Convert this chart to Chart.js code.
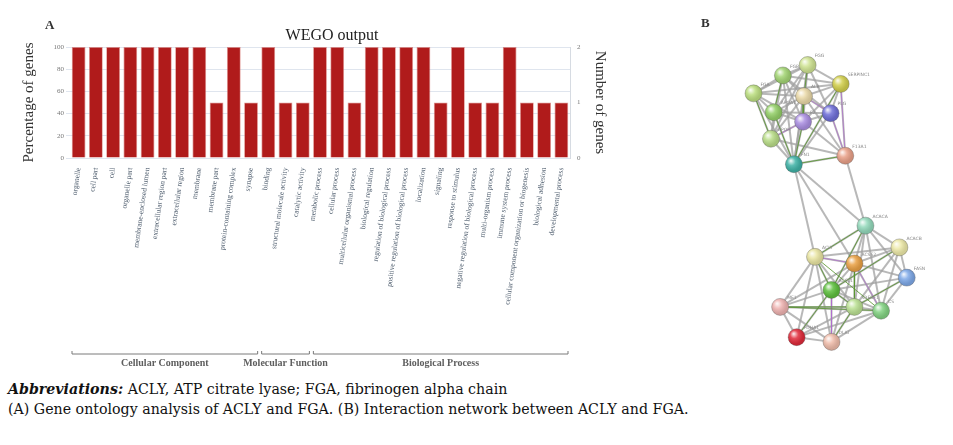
<!DOCTYPE html>
<html>
<head>
<meta charset="utf-8">
<script src="https://cdn.jsdelivr.net/npm/chart.js@4/dist/chart.umd.min.js"></script>
<style>
  html,body{margin:0;padding:0;background:#fff;}
  #wrap{position:relative;width:953px;height:445px;overflow:hidden;background:#fff;}
  #cA{position:absolute;left:0;top:0;}
  #cB{position:absolute;left:700px;top:30px;}
  .panel{position:absolute;font-family:"Liberation Serif",serif;font-weight:bold;font-size:13px;color:#333;}
  #ttl{position:absolute;left:232px;width:200px;top:25px;text-align:center;font-family:"Liberation Serif",serif;font-size:16px;line-height:19px;color:#222;}
  #cap{position:absolute;left:8px;top:379px;font-family:"DejaVu Serif",serif;font-size:14.2px;line-height:20px;color:#111;white-space:nowrap;}
</style>
</head>
<body>
<div id="wrap">
  <canvas id="cA" width="620" height="375"></canvas>
  <canvas id="cB" width="230" height="345"></canvas>
  <div class="panel" style="left:45px;top:17px;">A</div>
  <div id="ttl">WEGO output</div>
  <div class="panel" style="left:701px;top:15px;">B</div>
  <div id="cap">
    <div><b><i>Abbreviations:</i></b> ACLY, ATP citrate lyase; FGA, fibrinogen alpha chain</div>
    <div>(A) Gene ontology analysis of ACLY and FGA. (B) Interaction network between ACLY and FGA.</div>
  </div>
</div>
<script>
// ---------- Panel A data ----------
const categories = [
  "organelle","cell part","cell","organelle part","membrane-enclosed lumen",
  "extracellular region part","extracellular region","membrane","membrane part",
  "protein-containing complex","synapse",
  "binding","structural molecule activity","catalytic activity",
  "metabolic process","cellular process","multicellular organismal process",
  "biological regulation","regulation of biological process",
  "positive regulation of biological process","localization","signaling",
  "response to stimulus","negative regulation of biological process",
  "multi-organism process","immune system process",
  "cellular component organization or biogenesis","biological adhesion",
  "developmental process"
];
const percentValues = [100,100,100,100,100,100,100,100,50,100,50,
                       100,50,50,
                       100,100,50,100,100,100,100,50,100,50,50,100,50,50,50];
const leftTicks = [0,20,40,60,80,100];
const rightTicks = [0,1,2];
const groupNames = ["Cellular Component","Molecular Function","Biological Process"];
const groupFirst = [0,11,14];
const groupLast  = [10,13,28];

// ---------- Panel B data (network layout) ----------
const nodeNames = ["FGG","FGB","FGA","SERPINC1","ALB","APOA1","F2","PLG","APOH","FN1","F13A1",
                   "ACACA","ACACB","FASN","ACLY","ACSS2","ACSL1","ME1","SREBF1","CS","PDHA1","DLAT"];
const nodeX = [107,80,48,143,103,70,102,132,67,92,148, 170,207,215,115,158,133,77,158,187,95,133];
const nodeY = [27,38,57,47,60,77,87,78,105,132,123, 197,220,252,230,237,265,283,283,287,315,320];
const nodeColors = ["#cfe392","#a3d574","#bcdf80","#d2cf4c","#ead9a8","#94d068","#ab8fe2","#6e6ed8","#b9dd88","#3fb2a6","#e9a088",
                    "#93d9bb","#ede9a8","#7ea9e8","#e9e5a2","#eaa144","#5ec03e","#efb3b1","#bbe193","#82d282","#e02a3a","#efbcaa"];
const edges = [
  [0,1],[0,2],[0,3],[0,4],[0,5],[0,6],[0,7],[0,8],[0,9],
  [1,2],[1,3],[1,4],[1,5],[1,6],[1,7],[1,8],[1,9],
  [2,3],[2,4],[2,5],[2,6],[2,8],[2,9],
  [3,4],[3,6],[3,7],[3,9],[3,10],
  [4,5],[4,6],[4,7],[4,8],[4,9],[4,10],
  [5,6],[5,7],[5,8],[5,9],
  [6,7],[6,8],[6,9],[6,10],
  [7,9],[7,10],[8,9],[8,10],[9,10],
  [9,11],[9,14],[9,15],[10,11],
  [11,12],[11,13],[11,14],[11,15],[11,16],[11,18],[11,19],
  [12,13],[12,14],[12,15],[12,16],[12,18],[12,19],
  [13,15],[13,16],[13,18],[13,19],
  [14,15],[14,16],[14,17],[14,18],[14,20],[14,21],
  [15,16],[15,17],[15,18],[15,19],[15,21],
  [16,17],[16,18],[16,19],[16,20],[16,21],
  [17,18],[17,19],[17,20],[17,21],
  [18,19],[18,20],[18,21],[19,20],[19,21],[20,21]
];
const textminingEdges = [[0,4],[1,5],[3,9],[4,6],[5,9],[6,9],[2,8],[9,10],
                         [11,14],[11,16],[12,16],[14,16],[15,18],[16,18],[17,18],[16,20],[18,21],[13,18],[14,19],[17,19]];
const experimentEdges = [[4,7],[6,8],[3,10],[7,10],[14,15],[15,19],[16,21]];

// ---------- Panel A chart ----------
const SERIF = '"Liberation Serif", "Times New Roman", serif';
const groupPlugin = {
  id: 'groupBrackets',
  afterDraw(chart) {
    const {ctx, scales: {x}} = chart;
    const half = (x.getPixelForValue(1) - x.getPixelForValue(0)) / 2;
    const y = x.bottom + 1;
    ctx.save();
    ctx.strokeStyle = '#7a7a7a';
    ctx.lineWidth = 1;
    ctx.fillStyle = '#5e5e5e';
    ctx.font = 'bold 10px ' + SERIF;
    ctx.textAlign = 'center';
    ctx.textBaseline = 'middle';
    groupNames.forEach((name, i) => {
      const x0 = x.getPixelForValue(groupFirst[i]) - half + 2;
      const x1 = x.getPixelForValue(groupLast[i]) + half - 2;
      ctx.beginPath();
      ctx.moveTo(x0, y - 3); ctx.lineTo(x0, y); ctx.lineTo(x1, y); ctx.lineTo(x1, y - 3);
      ctx.stroke();
      ctx.fillText(name, (x0 + x1) / 2, y + 9);
    });
    ctx.restore();
  }
};

new Chart(document.getElementById('cA'), {
  type: 'bar',
  data: {
    labels: categories,
    datasets: [{
      data: percentValues,
      yAxisID: 'y',
      backgroundColor: '#b01b1b',
      borderColor: 'rgba(215,120,115,0.8)',
      borderWidth: 0.8,
      barPercentage: 0.8,
      categoryPercentage: 1
    }]
  },
  options: {
    responsive: false,
    animation: false,
    layout: {padding: {left: 0, right: 0, top: 47, bottom: 22}},
    plugins: {
      legend: {display: false},
      tooltip: {enabled: false},
      title: {display: false}
    },
    scales: {
      x: {
        grid: {display: false},
        border: {display: false},
        ticks: {autoSkip: false, minRotation: 82, maxRotation: 82, padding: 1,
                color: '#4b5a6b', font: {family: SERIF, size: 7.5}},
        afterFit(s) { s.height = 195; }
      },
      y: {
        position: 'left', min: 0, max: 100,
        afterBuildTicks(s) { s.ticks = leftTicks.map(v => ({value: v})); },
        ticks: {color: '#777', font: {family: SERIF, size: 7}, padding: 2},
        grid: {color: '#dfe5ee', tickLength: 4},
        border: {display: false},
        title: {display: true, text: 'Percentage of genes', color: '#333',
                font: {family: SERIF, size: 15}, padding: {top: 20, bottom: 0}},
        afterFit(s) { s.width = 70; }
      },
      y1: {
        position: 'right', min: 0, max: 2,
        afterBuildTicks(s) { s.ticks = rightTicks.map(v => ({value: v})); },
        ticks: {color: '#777', font: {family: SERIF, size: 7}, padding: 3},
        grid: {display: false, tickLength: 4},
        border: {display: true, color: '#d6dbe2'},
        title: {display: true, text: 'Number of genes', color: '#333',
                font: {family: SERIF, size: 15}, padding: {top: 11, bottom: 0}},
        afterFit(s) { s.width = 50; }
      }
    }
  },
  plugins: [groupPlugin]
});

// ---------- Panel B chart ----------
const pt = i => ({x: nodeX[i], y: nodeY[i]});
const edgeSets = [];
edges.forEach(e => edgeSets.push({data: [pt(e[0]), pt(e[1])], showLine: true, pointRadius: 0,
  borderColor: 'rgba(160,160,160,0.75)', borderWidth: 2, order: 3}));
textminingEdges.forEach(e => edgeSets.push({data: [pt(e[0]), pt(e[1])], showLine: true, pointRadius: 0,
  borderColor: 'rgba(90,150,50,0.85)', borderWidth: 1, order: 2}));
experimentEdges.forEach(e => edgeSets.push({data: [pt(e[0]), pt(e[1])], showLine: true, pointRadius: 0,
  borderColor: 'rgba(175,110,205,0.75)', borderWidth: 1, order: 2}));

const ballPlugin = {
  id: 'balls',
  afterDatasetsDraw(chart) {
    const meta = chart.getDatasetMeta(0);
    const ctx = chart.ctx;
    ctx.save();
    meta.data.forEach((el, i) => {
      const r = 8.5;
      const g = ctx.createRadialGradient(el.x - r*0.35, el.y - r*0.4, 0.5, el.x - r*0.2, el.y - r*0.2, r);
      g.addColorStop(0, 'rgba(255,255,255,0.85)');
      g.addColorStop(0.45, 'rgba(255,255,255,0.15)');
      g.addColorStop(1, 'rgba(0,0,0,0.12)');
      ctx.beginPath(); ctx.arc(el.x, el.y, r, 0, Math.PI*2);
      ctx.fillStyle = g; ctx.fill();
      ctx.fillStyle = '#888';
      ctx.font = '4.5px "DejaVu Sans", sans-serif';
      ctx.textAlign = 'left'; ctx.textBaseline = 'middle';
      ctx.fillText(nodeNames[i], el.x + 7, el.y - 9);
    });
    ctx.restore();
  }
};

new Chart(document.getElementById('cB'), {
  type: 'scatter',
  data: {
    datasets: [{data: nodeX.map((v, i) => pt(i)), pointRadius: 8.5, pointHoverRadius: 8.5,
      backgroundColor: nodeColors, borderColor: 'rgba(90,90,90,0.35)', borderWidth: 1, order: 0},
      ...edgeSets]
  },
  options: {
    responsive: false, animation: false,
    layout: {padding: 0},
    plugins: {legend: {display: false}, tooltip: {enabled: false}},
    scales: {
      x: {display: false, min: 0, max: 230},
      y: {display: false, min: 0, max: 345, reverse: true}
    }
  },
  plugins: [ballPlugin]
});
</script>
</body>
</html>
